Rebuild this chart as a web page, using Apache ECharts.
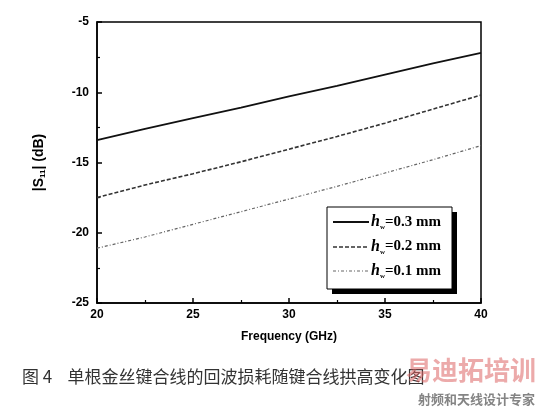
<!DOCTYPE html>
<html><head><meta charset="utf-8">
<script src="https://cdn.jsdelivr.net/npm/echarts@6/dist/echarts.min.js"></script>
<style>html,body{margin:0;padding:0;background:#fff}#c{width:536px;height:410px}</style>
</head><body><div id="c"></div>
<script>
const freq = [20, 22.5, 25, 27.5, 30, 32.5, 35, 37.5, 40];
const s03 = [-13.4, -12.6, -11.85, -11.1, -10.3, -9.55, -8.75, -7.95, -7.2];
const s02 = [-17.5, -16.6, -15.8, -14.95, -14.05, -13.15, -12.2, -11.2, -10.2];
const s01 = [-21.1, -20.3, -19.4, -18.5, -17.6, -16.7, -15.75, -14.8, -13.8];
const names = ['0.3', '0.2', '0.1'];
const xTicks = [20, 25, 30, 35, 40];
const yTicks = [-25, -20, -15, -10, -5];

const chart = echarts.init(document.getElementById('c'));
const mk = (arr, type, width, color) => ({
  type: 'line', data: freq.map((f, i) => [f, arr[i]]), symbol: 'none',
  lineStyle: {type: type, width: width, color: color}, silent: true
});
chart.setOption({
  animation: false,
  grid: {left: 97, right: 55, top: 22, bottom: 107, show: true, borderColor: '#000', borderWidth: 1.5},
  xAxis: {
    type: 'value', min: 20, max: 40, interval: 5,
    name: 'Frequency (GHz)', nameLocation: 'middle', nameGap: 28,
    nameTextStyle: {fontFamily: 'Liberation Sans', fontWeight: 'bold', fontSize: 12, color: '#000'},
    axisLine: {lineStyle: {color: '#000', width: 1.5}},
    axisTick: {inside: true, length: 5, lineStyle: {color: '#000', width: 1.5}},
    minorTick: {show: true, splitNumber: 2, length: 3, lineStyle: {color: '#000', width: 1.2}},
    axisLabel: {fontFamily: 'Liberation Sans', fontWeight: 'bold', fontSize: 12, color: '#000', margin: 6},
    splitLine: {show: false}
  },
  yAxis: {
    type: 'value', min: -25, max: -5, interval: 5,
    name: '{a||S}{s|11}{a|| (dB)}', nameLocation: 'middle', nameGap: 50, nameRotate: 90,
    nameTextStyle: {rich: {
      a: {fontFamily: 'Liberation Sans', fontWeight: 'bold', fontSize: 14, color: '#000'},
      s: {fontFamily: 'Liberation Sans', fontWeight: 'bold', fontSize: 8, color: '#000', verticalAlign: 'bottom', padding: [8, 0, 0, 0]}
    }},
    axisLine: {lineStyle: {color: '#000', width: 1.5}},
    axisTick: {inside: true, length: 5, lineStyle: {color: '#000', width: 1.5}},
    minorTick: {show: true, splitNumber: 2, length: 3, lineStyle: {color: '#000', width: 1.2}},
    axisLabel: {fontFamily: 'Liberation Sans', fontWeight: 'bold', fontSize: 12, color: '#000', margin: 8},
    splitLine: {show: false}
  },
  series: [
    mk(s03, 'solid', 1.8, '#111'),
    mk(s02, [4, 2], 1.6, '#333'),
    mk(s01, [3, 2, 1, 2], 1.2, '#666')
  ],
  graphic: [
    {type: 'rect', shape: {x: 332, y: 212, width: 125, height: 82}, style: {fill: '#000'}, z: 10},
    {type: 'rect', shape: {x: 327, y: 207, width: 125, height: 82}, style: {fill: '#fff', stroke: '#000', lineWidth: 1}, z: 11},
    {type: 'line', shape: {x1: 333, y1: 222, x2: 369, y2: 222}, style: {stroke: '#111', lineWidth: 1.8}, z: 12},
    {type: 'line', shape: {x1: 333, y1: 247, x2: 369, y2: 247}, style: {stroke: '#333', lineWidth: 1.6, lineDash: [4, 2]}, z: 12},
    {type: 'line', shape: {x1: 333, y1: 271, x2: 369, y2: 271}, style: {stroke: '#666', lineWidth: 1.2, lineDash: [3, 2, 1, 2]}, z: 12},
    ...names.map((n, i) => ({
      type: 'text', x: 371, y: 222 + i * 24.5, z: 12,
      style: {
        text: '{h|h}{w|w}{t|=' + n + ' mm}', verticalAlign: 'middle',
        rich: {
          h: {fontFamily: 'Liberation Serif', fontWeight: 'bold', fontStyle: 'italic', fontSize: 16, fill: '#000'},
          w: {fontFamily: 'Liberation Serif', fontWeight: 'bold', fontSize: 7, fill: '#000', verticalAlign: 'bottom', padding: [11, 0, 0, 0]},
          t: {fontFamily: 'Liberation Serif', fontWeight: 'bold', fontSize: 15, fill: '#000'}
        }
      }
    })),
    {type: 'text', x: 22, y: 368, style: {text: '图 4    单根金丝键合线的回波损耗随键合线拱高变化图', fontFamily: 'Noto Sans CJK SC', fontSize: 17, fill: '#333'}},
    {type: 'text', x: 406, y: 357, z: 20, style: {text: '易迪拓培训', fontFamily: 'Noto Sans CJK SC', fontWeight: 'bold', fontSize: 26, fill: 'rgba(220,100,100,0.55)'}},
    {type: 'text', x: 418, y: 393, z: 20, style: {text: '射频和天线设计专家', fontFamily: 'Noto Sans CJK SC', fontWeight: 'bold', fontSize: 13, fill: 'rgba(110,110,110,0.85)'}}
  ]
});
</script></body></html>
